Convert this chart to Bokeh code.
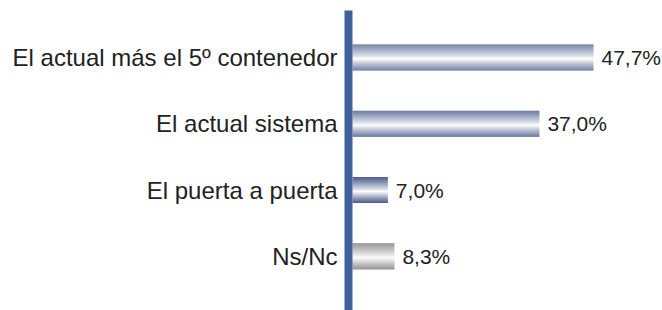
from bokeh.plotting import figure
from bokeh.models import Range1d, ColumnDataSource
from bokeh.core.properties import value
from bokeh.embed import file_html
from bokeh.resources import INLINE

# Data
categories = ["El actual más el 5º contenedor", "El actual sistema", "El puerta a puerta", "Ns/Nc"]
values = [47.7, 37.0, 7.0, 8.3]
labels = ["47,7%", "37,0%", "7,0%", "8,3%"]
bar_kinds = ["blue", "blue", "blue", "gray"]

# Styles
DARK = {"blue": (74, 92, 140), "gray": (136, 136, 136)}
AXIS_COLOR = "#41609a"
TEXT_COLOR = "#222222"
FONT = "Liberation Sans"

W, H = 662, 310
PX_X = 5.052          # px per percent
PX_Y = 66.3           # px per category step
X0_PX = 352           # bar origin in frame px
Y_TOP_PX = 57         # center of first bar in frame px

x_start = -X0_PX / PX_X
x_end = x_start + W / PX_X
y_end = 3 + Y_TOP_PX / PX_Y
y_start = y_end - H / PX_Y

p = figure(width=W, height=H, output_backend="svg", toolbar_location=None,
           x_range=Range1d(x_start, x_end), y_range=Range1d(y_start, y_end),
           min_border=0, outline_line_color=None)
p.axis.visible = False
p.grid.visible = False
p.background_fill_color = "white"
p.border_fill_color = "white"

n = len(categories)
ys = [n - 1 - i for i in range(n)]
bar_h = 26 / PX_Y

# gradient slices
N = 26
left, right, top, bottom, colors = [], [], [], [], []
for v, yc, kind in zip(values, ys, bar_kinds):
    dr, dg, db = DARK[kind]
    for k in range(N):
        t = (k + 0.5) / N  # 0 top -> 1 bottom
        c = 0.56
        if t < c:
            f = (c - t) / c
        else:
            f = (t - c) / (1 - c)
        f = min(1.0, f ** 0.9)
        r = int(255 * (1 - f) + dr * f)
        g = int(255 * (1 - f) + dg * f)
        b = int(255 * (1 - f) + db * f)
        yt = yc + bar_h / 2 - k * bar_h / N
        yb = yc + bar_h / 2 - (k + 1) * bar_h / N
        left.append(0)
        right.append(v)
        top.append(yt + 0.001)
        bottom.append(yb)
        colors.append("#%02x%02x%02x" % (r, g, b))

p.quad(left=left, right=right, top=top, bottom=bottom, fill_color=colors, line_color=None)

# axis line
ax_x = -4 / PX_X
p.segment(x0=[ax_x], y0=[y_end - 10 / PX_Y], x1=[ax_x], y1=[y_start], line_color=AXIS_COLOR,
          line_width=8)

src = ColumnDataSource(dict(y=ys, cat=categories, v=values, lab=labels, zero=[0] * n))
p.text(x="zero", y="y", text="cat", source=src, text_align="right", text_baseline="middle",
       x_offset=-15, text_font=value(FONT), text_font_size="24px", text_color=TEXT_COLOR)
p.text(x="v", y="y", text="lab", source=src, text_align="left", text_baseline="middle",
       x_offset=8, text_font=value(FONT), text_font_size="21px", text_color=TEXT_COLOR)

open("out.html", "w").write(file_html(p, INLINE))
